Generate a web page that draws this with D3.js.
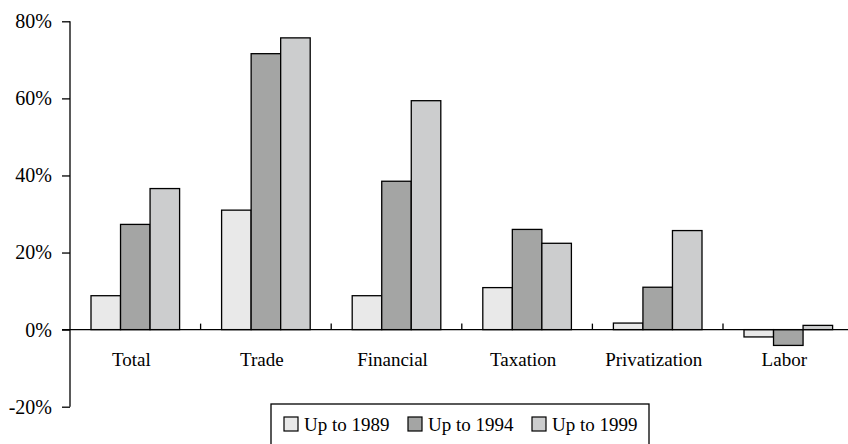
<!DOCTYPE html>
<html>
<head>
<meta charset="utf-8">
<script src="https://cdn.jsdelivr.net/npm/d3@7"></script>
<style>
  html, body { margin: 0; padding: 0; background: #fff; }
  svg { display: block; }
</style>
</head>
<body>
<svg id="chart" width="848" height="444"></svg>
<script>
// Reform categories and cumulative change by period (percent)
const categories = ["Total", "Trade", "Financial", "Taxation", "Privatization", "Labor"];
const seriesNames = ["Up to 1989", "Up to 1994", "Up to 1999"];
const upTo1989 = [8.8, 31.0, 8.8, 10.9, 1.7, -1.9];
const upTo1994 = [27.3, 71.6, 38.5, 26.0, 11.0, -4.1];
const upTo1999 = [36.6, 75.7, 59.4, 22.4, 25.7, 1.1];
const yTicks = [-20, 0, 20, 40, 60, 80];

const seriesValues = [upTo1989, upTo1994, upTo1999];
const seriesColors = ["#e9e9e9", "#a4a5a4", "#cccdce"];
const FONT = "'Liberation Serif', 'Times New Roman', serif";

const svg = d3.select("#chart");

const y = d3.scaleLinear().domain([-20, 80]).range([406.7, 21.3]);
const x = d3.scaleBand().domain(categories).range([70, 853.6]).padding(0);
const groupWidth = 88.6;
const xInner = d3.scaleBand().domain(seriesNames).range([0, groupWidth]).padding(0);
const groupOffset = (x.bandwidth() - groupWidth) / 2;

// Bars
seriesNames.forEach((name, si) => {
  svg.append("g")
    .selectAll("rect")
    .data(categories.map((c, ci) => ({ c, v: seriesValues[si][ci] })))
    .join("rect")
    .attr("x", d => x(d.c) + groupOffset + xInner(name))
    .attr("y", d => y(Math.max(0, d.v)))
    .attr("width", xInner.bandwidth())
    .attr("height", d => Math.abs(y(d.v) - y(0)))
    .attr("fill", seriesColors[si])
    .attr("stroke", "#000")
    .attr("stroke-width", 1.3);
});

// Y axis
const yAxis = svg.append("g")
  .attr("transform", "translate(70,0)")
  .call(d3.axisLeft(y).tickValues(yTicks).tickFormat(d => d + "%").tickSize(8).tickPadding(10));
yAxis.attr("font-family", null).attr("font-size", null);
yAxis.select(".domain").attr("stroke", "#000").attr("stroke-width", 1.3).attr("d", `M0,${y(-20)}V${y(80)}`);
yAxis.selectAll(".tick line").attr("stroke", "#000").attr("stroke-width", 1.3);
yAxis.selectAll(".tick text")
  .style("font-family", FONT)
  .style("font-size", "20px")
  .attr("fill", "#000");

// X axis along zero, with short upward ticks between categories
const xAxisG = svg.append("g");
xAxisG.append("line")
  .attr("x1", 62).attr("x2", 848)
  .attr("y1", y(0)).attr("y2", y(0))
  .attr("stroke", "#000").attr("stroke-width", 1.3);
xAxisG.selectAll("line.cat-tick")
  .data(categories.slice(1))
  .join("line")
  .attr("class", "cat-tick")
  .attr("x1", d => x(d)).attr("x2", d => x(d))
  .attr("y1", y(0)).attr("y2", y(0) - 6)
  .attr("stroke", "#000").attr("stroke-width", 1.3);

xAxisG.selectAll("text.cat-label")
  .data(categories)
  .join("text")
  .attr("class", "cat-label")
  .attr("x", d => x(d) + x.bandwidth() / 2 - 4)
  .attr("y", 366)
  .attr("text-anchor", "middle")
  .style("font-family", FONT)
  .style("font-size", "19px")
  .text(d => d);

// Legend
const legend = svg.append("g");
legend.append("rect")
  .attr("x", 271).attr("y", 404)
  .attr("width", 378).attr("height", 60)
  .attr("fill", "#fff").attr("stroke", "#000").attr("stroke-width", 1.3);

const legendStep = 124;
const items = legend.selectAll("g.item")
  .data(seriesNames)
  .join("g")
  .attr("class", "item")
  .attr("transform", (d, i) => `translate(${284 + i * legendStep},0)`);
items.append("rect")
  .attr("x", 0).attr("y", 417)
  .attr("width", 14).attr("height", 14)
  .attr("fill", (d, i) => seriesColors[i])
  .attr("stroke", "#000").attr("stroke-width", 1.2);
items.append("text")
  .attr("x", 20).attr("y", 431)
  .style("font-family", FONT)
  .style("font-size", "19px")
  .text(d => d);
</script>
</body>
</html>
